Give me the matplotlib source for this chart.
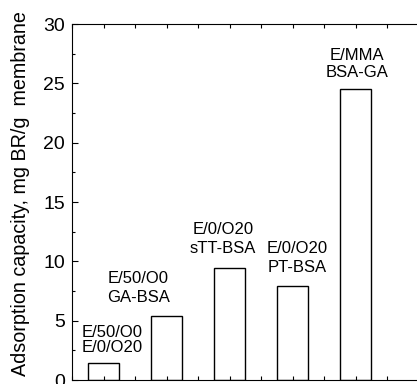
import matplotlib
matplotlib.use("Agg")
import matplotlib.pyplot as plt
from matplotlib.ticker import MultipleLocator

plt.rcParams['font.family'] = ['Liberation Sans', 'DejaVu Sans']

positions = [1, 2, 3, 4, 5]
capacity = [1.4, 5.4, 9.4, 7.9, 24.5]
labels = ["E/50/O0\nE/0/O20", "E/50/O0\nGA-BSA", "E/0/O20\nsTT-BSA",
          "E/0/O20\nPT-BSA", "E/MMA\nBSA-GA"]
# label anchor (x, baseline of last line) in data units
label_x = [1.13, 1.55, 2.9, 4.08, 5.03]
label_y = [2.4, 6.57, 10.7, 9.1, 25.5]
label_spacing = [0.95, 1.35, 1.35, 1.35, 1.2]

fig = plt.figure(figsize=(4.17, 3.84), dpi=100)
ax = fig.add_axes([0.1727, 0.0104, 0.9065, 0.927])

ax.bar(positions, capacity, width=0.5, color='white', edgecolor='black', linewidth=1)

for x, y, t, ls in zip(label_x, label_y, labels, label_spacing):
    ax.text(x, y, t, ha='center', va='baseline', fontsize=12, linespacing=ls)

ax.set_xlim(0.5, 6.5)
ax.set_ylim(0, 30)
ax.xaxis.set_major_locator(MultipleLocator(0.5))
ax.yaxis.set_major_locator(MultipleLocator(5))
ax.yaxis.set_minor_locator(MultipleLocator(2.5))
ax.tick_params(axis='both', which='major', direction='in', length=4, width=0.8,
               top=True, labelsize=14, pad=5)
ax.tick_params(axis='both', which='minor', direction='in', length=2, width=0.8)
ax.tick_params(axis='x', labelbottom=False, length=3)

ax.set_ylabel("Adsorption capacity, mg BR/g  membrane", fontsize=14.2)
ax.yaxis.set_label_coords(-0.112, 0.525)

fig.savefig("out.png", dpi=100)
